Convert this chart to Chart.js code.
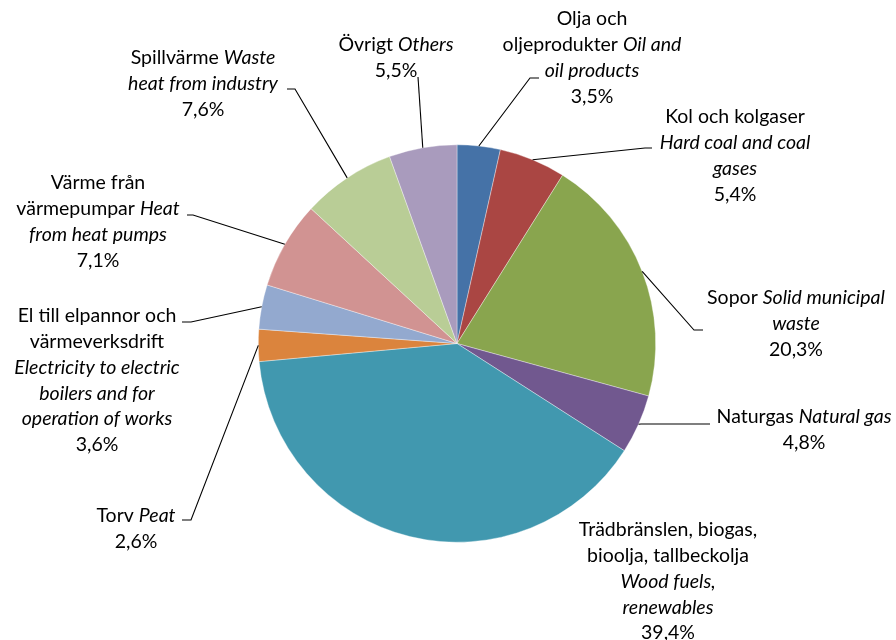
<!DOCTYPE html>
<html><head><meta charset="utf-8">
<script src="https://cdn.jsdelivr.net/npm/chart.js@4.4.1/dist/chart.umd.min.js"></script>
<style>html,body{margin:0;padding:0;background:#fff}#wrap{width:896px;height:640px;position:relative}</style>
</head><body><div id="wrap"><canvas id="c" width="896" height="640"></canvas></div>
<script>
// ---- data ----
const categoriesSv = ["Olja och oljeprodukter","Kol och kolgaser","Sopor","Naturgas","Trädbränslen, biogas, bioolja, tallbeckolja","Torv","El till elpannor och värmeverksdrift","Värme från värmepumpar","Spillvärme","Övrigt"];
const categoriesEn = ["Oil and oil products","Hard coal and coal gases","Solid municipal waste","Natural gas","Wood fuels, renewables","Peat","Electricity to electric boilers and for operation of works","Heat from heat pumps","Waste heat from industry","Others"];
const values = [3.5, 5.4, 20.3, 4.8, 39.4, 2.6, 3.6, 7.1, 7.6, 5.5];
const colors = ["#4572A7","#AA4643","#89A54E","#71588F","#4198AF","#DB843D","#93A9CF","#D19392","#B9CD96","#A99BBD"];
// label line breaks (*...* = italic)
const labelLines = [
  ["Olja och","oljeprodukter *Oil and*","*oil products*"],
  ["Kol och kolgaser","*Hard coal and coal*","*gases*"],
  ["Sopor *Solid municipal*","*waste*"],
  ["Naturgas *Natural gas*"],
  ["Trädbränslen, biogas,","bioolja, tallbeckolja","*Wood fuels,*","*renewables*"],
  ["Torv *Peat*"],
  ["El till elpannor och","värmeverksdrift","*Electricity to electric*","*boilers and for*","*operation of works*"],
  ["Värme från","värmepumpar *Heat*","*from heat pumps*"],
  ["Spillvärme *Waste*","*heat from industry*"],
  ["Övrigt *Others*"]
];
// label layout: text centre x, first line y, leader elbow & end (null = no leader)
const labelLayout = [
  {x:592, y:19,  elbow:[530,78],  end:[539,78]},
  {x:735, y:117, elbow:[645,148], end:[652,148]},
  {x:796, y:298, elbow:[694,330], end:[703,330]},
  {x:804, y:417, elbow:[641,424], end:[710,424]},
  {x:668, y:530, elbow:null, end:null},
  {x:136, y:516, elbow:[191,520], end:[182,520]},
  {x:97,  y:316, elbow:[191,322], end:[182,322]},
  {x:98,  y:183, elbow:[193,215], end:[187,215]},
  {x:203, y:58,  elbow:[295,89],  end:[287,89]},
  {x:396, y:45,  elbow:[418,77],  end:[418,77]}
];
const lineH = 25.8;
const fontFamily = "Lato, 'Open Sans', sans-serif";
const fontSize = 19.5;

function fmt(v){ return v.toFixed(1).replace('.', ',') + '%'; }
function parseSegs(s){
  const parts = s.split('*'); const segs=[];
  parts.forEach((p,i)=>{ if(p.length) segs.push({t:p, it: i%2===1}); });
  return segs;
}

const labelPlugin = {
  id:'labels',
  afterDatasetsDraw(chart){
    const ctx = chart.ctx;
    const meta = chart.getDatasetMeta(0);
    ctx.save();
    meta.data.forEach((arc,i)=>{
      const L = labelLayout[i];
      const mid = (arc.startAngle + arc.endAngle)/2;
      const px = arc.x + Math.cos(mid)*arc.outerRadius;
      const py = arc.y + Math.sin(mid)*arc.outerRadius;
      if (L.elbow){
        ctx.strokeStyle = '#000'; ctx.lineWidth = 1.1;
        ctx.beginPath(); ctx.moveTo(px,py); ctx.lineTo(L.elbow[0],L.elbow[1]); ctx.lineTo(L.end[0],L.end[1]); ctx.stroke();
      }
      const lines = labelLines[i].map(parseSegs);
      lines.push([{t:fmt(values[i]), it:false}]);
      ctx.fillStyle = '#000'; ctx.textBaseline = 'middle'; ctx.textAlign='left';
      lines.forEach((segs,k)=>{
        let w=0;
        segs.forEach(s=>{ ctx.font=(s.it?'italic ':'')+fontSize+'px '+fontFamily; s.w=ctx.measureText(s.t).width; w+=s.w; });
        let x = L.x - w/2; const y = L.y + k*lineH;
        segs.forEach(s=>{ ctx.font=(s.it?'italic ':'')+fontSize+'px '+fontFamily; ctx.fillText(s.t,x,y); x+=s.w; });
      });
    });
    ctx.restore();
  }
};

new Chart(document.getElementById('c'), {
  type:'pie',
  data:{ labels: categoriesSv, datasets:[{ data: values, backgroundColor: colors, borderColor:'rgba(255,255,255,0.6)', borderWidth:0.6 }]},
  options:{
    responsive:false, animation:false,
    layout:{ padding:{ left:258, right:240, top:144, bottom:97 } },
    plugins:{ legend:{display:false}, tooltip:{enabled:false} }
  },
  plugins:[labelPlugin]
});
</script></body></html>
